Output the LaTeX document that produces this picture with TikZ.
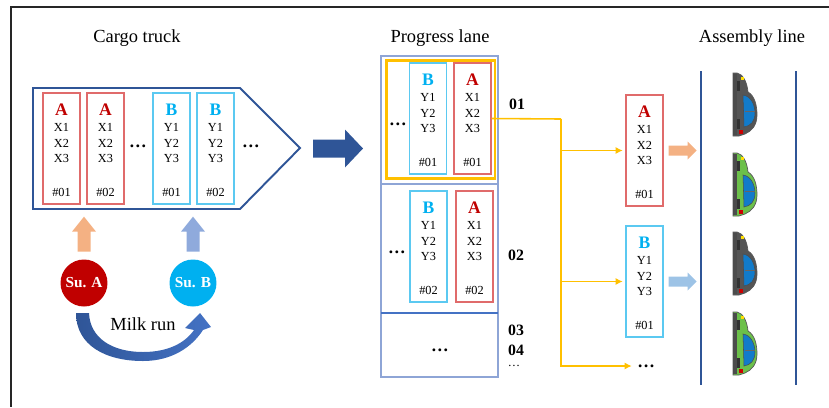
\documentclass[tikz,border=0pt]{standalone}
\usepackage{fontspec}
\setmainfont{Liberation Serif}
\usetikzlibrary{arrows.meta}

\definecolor{colA}{HTML}{C00000}
\definecolor{colB}{HTML}{00B0F0}
\definecolor{lineA}{HTML}{E06B6B}
\definecolor{lineB}{HTML}{5BC9F1}
\definecolor{navy}{HTML}{2F5597}
\definecolor{royal}{HTML}{4472C4}
\definecolor{lane}{HTML}{8EA5D6}
\definecolor{gold}{HTML}{FFC000}
\definecolor{peach}{HTML}{F4B183}
\definecolor{sky}{HTML}{9DC3E6}
\definecolor{lilac}{HTML}{8FAADC}
\definecolor{carbody}{HTML}{555555}
\definecolor{cargreen}{HTML}{6CC04A}

\tikzset{
  boxA/.style={draw=lineA, line width=.7pt, minimum width=.74cm, minimum height=2.22cm, inner sep=0},
  boxB/.style={boxA, draw=lineB},
  letter/.style={font=\bfseries\fontsize{10}{10}\selectfont, inner sep=0},
  item/.style={font=\fontsize{7}{8}\selectfont, inner sep=0},
  title/.style={font=\fontsize{10.5}{12}\selectfont, inner sep=0},
  num/.style={font=\bfseries\fontsize{9}{10}\selectfont, inner sep=0},
  dots/.style={font=\bfseries\fontsize{10}{10}\selectfont, inner sep=0},
  supplier/.style={circle, inner sep=0, minimum size=.94cm, text=white, font=\bfseries\fontsize{8.7}{9}\selectfont},
  feed/.style={draw=gold, line width=.9pt},
  pics/car/.style={code={
    \filldraw[fill=#1, draw=black!65, line width=.4pt] (0,0) -- (4,0) .. controls (10,1) and (14,9) .. (15,19)
      .. controls (22,23) and (24,33) .. (24,42) .. controls (24,52) and (19,58) .. (12,61) -- (6,63) -- (0,63) -- cycle;
    \fill[black!70] (0,1) rectangle (4,62);
    \fill[black!80] (4,8) rectangle (7,18);
    \fill[black!80] (4,46) rectangle (7,56);
    \filldraw[fill=cyan!60!blue, draw=black!70, line width=.3pt] (10,22) .. controls (18,23) and (22,32) .. (22,40)
      .. controls (22,48) and (18,53) .. (11,54) -- cycle;
    \draw[black!60, line width=.3pt] (12,38) -- (22,38);
    \fill[red!80!black] (6,57) rectangle (10,61);
    \fill[yellow!80!orange] (8,4) rectangle (11,7);
  }}
}

% one part container: name, centre x, top y, family, item letter, serial
\newcommand{\partbox}[6]{%
  \node[box#4] (#1) at (#2,#3+55.5) {};
  \node[letter, text=col#4] at (#2,#3+16.5) {#4};
  \foreach \k [count=\i] in {34,50,65} \node[item] at (#2,#3+\k) {#5\i};
  \node[item] at (#2,#3+99) {\##6};
}

\begin{document}
\begin{tikzpicture}[x=0.02cm, y=-0.02cm]
\useasboundingbox (0,0) rectangle (829,407);
\draw[line width=.8pt, black!85] (829,7) -- (11,7) -- (11,407);

% cargo truck
\node[title] (truck) at (137,38) {Cargo truck};
\draw[navy, line width=1.1pt, line join=miter] (33,88) -- (240,88) -- (300,148) -- (240,209) -- (33,209) -- cycle;
\coordinate (tip) at (300,148);
\partbox{ta1}{61.5}{93}{A}{X}{01}
\partbox{ta2}{105.5}{93}{A}{X}{02}
\partbox{tb1}{171.5}{93}{B}{Y}{01}
\partbox{tb2}{215.5}{93}{B}{Y}{02}
\node[dots] (td1) at (138,146) {\dots};
\node[dots] (td2) at (251,146) {\dots};

% suppliers and milk run
\node[supplier, fill=colA] (suA) at (84,283) {Su. A};
\node[supplier, fill=colB] (suB) at (193,283) {Su. B};
\fill[peach] (suA.north) ++(-6.5,-7.5) -- ++(0,-20) -- ++(-5.5,0) -- ++(12,-15) -- ++(12,15) -- ++(-5.5,0) -- ++(0,20) -- cycle;
\fill[lilac] (suB.north) ++(-6.5,-7.5) -- ++(0,-20) -- ++(-5.5,0) -- ++(12,-15) -- ++(12,15) -- ++(-5.5,0) -- ++(0,20) -- cycle;
\shade[left color=navy, right color=royal] (76,313) .. controls (76,345) and (105,361) .. (143,361)
  .. controls (172,361) and (192,347) .. (203,330) -- (211,327) -- (200,313) -- (185,328) -- (194,330)
  .. controls (185,343) and (168,352) .. (143,352) .. controls (112,352) and (90,338) .. (89,313) -- cycle;
\node[title] (milk) at (143,324) {Milk run};

\fill[navy] (tip) ++(13,-8.5) -- ++(32,0) -- ++(0,-10) -- ++(18,19) -- ++(-18,19) -- ++(0,-10) -- ++(-32,0) -- cycle;

% progress lane
\node[title] (lanetitle) at (440,38) {Progress lane};
\draw[lane, line width=.7pt] (381,56) rectangle (498,377);
\draw[lane, line width=.7pt] (381,184) -- (498,184);
\draw[royal, line width=.7pt] (381,313) -- (498,313);
\draw[gold, line width=1.7pt] (386.5,60.5) rectangle (495,178.5);
\partbox{lb1}{428}{63}{B}{Y}{01}
\partbox{la1}{472.5}{63}{A}{X}{01}
\partbox{lb2}{428.5}{191}{B}{Y}{02}
\partbox{la2}{474.5}{191}{A}{X}{02}
\node[dots] (ld1) at (398,124) {\dots};
\node[dots] (ld2) at (397,252) {\dots};
\node[dots] (ld3) at (440,350) {\dots};
\node[num] (n1) at (517,104) {01};
\node[num] (n2) at (516,255) {02};
\node[num] (n3) at (516,330) {03};
\node[num] (n4) at (516,350) {04};
\node[item] (n5) at (514,366) {\dots};

% sequenced parts
\partbox{qa}{644.5}{95}{A}{X}{01}
\partbox{qb}{644.5}{226}{B}{Y}{01}
\node[dots, anchor=west] (qd) at (637,366) {\dots};
\coordinate (split) at (561,119);
\draw[feed] (la1.east) -- (split);
\draw[feed, -{Latex[length=4pt,width=4pt]}, shorten >=3pt] (split) |- (qd.west);
\draw[feed, -{Latex[length=4pt,width=4pt]}, shorten >=1.5pt] (split |- qa.west) -- (qa.west);
\draw[feed, -{Latex[length=4pt,width=4pt]}, shorten >=1.5pt] (split |- qb.west) -- (qb.west);
\fill[peach] (qa.east) ++(5,-5) -- ++(19,0) -- ++(0,-4) -- ++(9,9) -- ++(-9,9) -- ++(0,-4) -- ++(-19,0) -- cycle;
\fill[sky] (qb.east) ++(5,-5) -- ++(19,0) -- ++(0,-4) -- ++(9,9) -- ++(-9,9) -- ++(0,-4) -- ++(-19,0) -- cycle;

% assembly line
\node[title] (linetitle) at (752,38) {Assembly line};
\draw[navy, line width=1.6pt] (701,71) -- (701,385);
\draw[navy, line width=1.6pt] (796,71) -- (796,385);
\pic at (733,73) {car=carbody};
\pic at (733,153) {car=cargreen};
\pic at (733,232) {car=carbody};
\pic at (733,312) {car=cargreen};
\end{tikzpicture}
\end{document}
